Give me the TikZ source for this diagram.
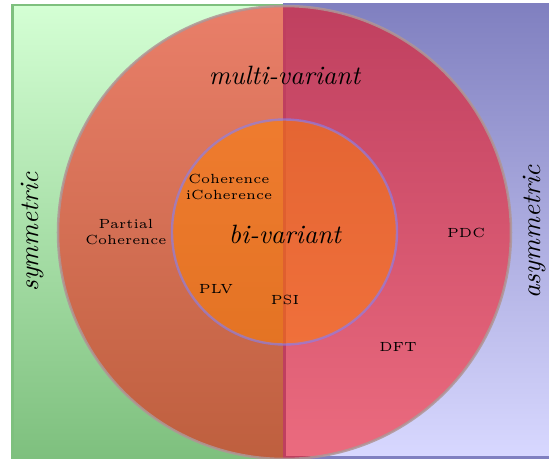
\documentclass[tikz,border=0pt]{standalone}
\definecolor{symtop}{RGB}{212,255,212}
\definecolor{symbot}{RGB}{126,192,126}
\definecolor{asymtop}{RGB}{128,128,192}
\definecolor{asymbot}{RGB}{216,216,255}
\definecolor{ringline}{RGB}{175,150,150}
\begin{document}
\begin{tikzpicture}[x=0.3774pt,y=-0.3774pt,
  halfbox/.style={line width=1.1pt},
  bigtext/.style={font=\itshape, inner sep=0pt},
  method/.style={font=\tiny, align=center, inner sep=0pt}]
\useasboundingbox (0,0) rectangle (549,459);
% the two halves: symmetric (left) and asymmetric (right)
\draw[halfbox, top color=symtop, bottom color=symbot, draw=symbot]
  (12.5,5) rectangle (284.5,457.5);
\draw[halfbox, top color=asymtop, bottom color=asymbot, draw=asymtop]
  (284.5,4.5) rectangle (550,457.5);
% multi-variant ring and bi-variant core
\draw[fill=red, fill opacity=0.5, draw=ringline, draw opacity=0.85, line width=0.95pt]
  (284.5,232.5) circle[radius=226.5];
\draw[fill=orange, fill opacity=0.5, draw=blue!50, draw opacity=0.6, line width=0.9pt]
  (284.5,232) circle[radius=112.5];
% labels
\node[bigtext] (multi) at (284.5,75) {multi-variant};
\node[bigtext] (bi) at (285,234) {bi-variant};
\node[bigtext, rotate=90] (sym) at (33,232) {symmetric};
\node[bigtext, rotate=90] (asym) at (535,232) {asymmetric};
\node[method] (coh) at (229,187) {Coherence\\iCoherence};
\node[method] (pcoh) at (126,232) {Partial\\Coherence};
\node[method] (plv) at (216,289) {PLV};
\node[method] (psi) at (285,300) {PSI};
\node[method] (pdc) at (466,233) {PDC};
\node[method] (dft) at (398,347) {DFT};
\end{tikzpicture}
\end{document}
